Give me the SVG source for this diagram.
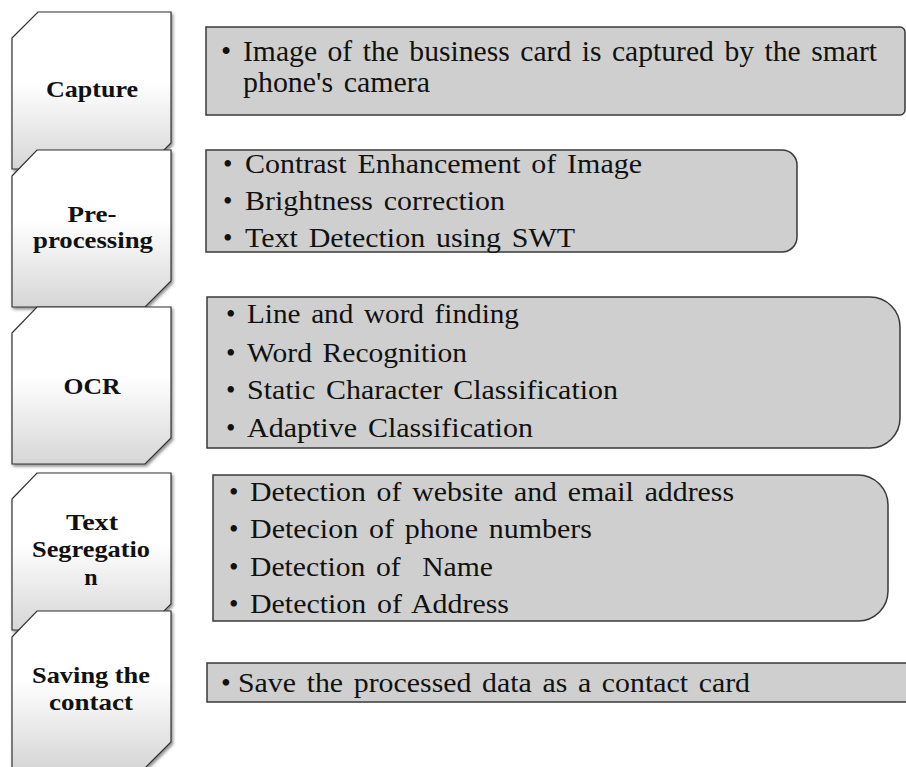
<svg xmlns="http://www.w3.org/2000/svg" width="906" height="767" viewBox="0 0 906 767">
  <defs>
    <linearGradient id="stepFill" x1="0" y1="0" x2="0" y2="1">
      <stop offset="0" stop-color="#ffffff"/>
      <stop offset="0.45" stop-color="#ffffff"/>
      <stop offset="1" stop-color="#d6d6d6"/>
    </linearGradient>
    <filter id="stepShadow" x="-10%" y="-10%" width="125%" height="125%">
      <feDropShadow dx="1.5" dy="2" stdDeviation="1.6" flood-color="#000" flood-opacity="0.45"/>
    </filter>
  </defs>
  <style>
    .step { fill: url(#stepFill); stroke: #333; stroke-width: 1.2; filter: url(#stepShadow); }
    .label { font-weight: bold; font-size: 24px; fill: #111; text-anchor: middle; }
    .box { fill: #cfcfcf; stroke: #3a3a3a; stroke-width: 1.5; }
    .item { font-size: 27px; fill: #111; word-spacing: 3px; }
    .big { font-size: 29px; }
    .mid { font-size: 28px; }
  </style>
  <rect width="906" height="767" fill="#ffffff"/>

  <!-- detail boxes (right column) -->
  <g id="details" font-family="'Liberation Serif', 'Times New Roman', serif">
    <g id="detail-capture">
      <path class="box" d="M206,27 H900 A5,5 0 0 1 905,32 V110 A5,5 0 0 1 900,115 H206 Z"/>
      <text class="item big" x="221" y="61">•</text>
      <text class="item big" x="243" y="61" textLength="634" lengthAdjust="spacingAndGlyphs">Image of the business card is captured by the smart</text>
      <text class="item big" x="243" y="92" textLength="187" lengthAdjust="spacingAndGlyphs">phone's camera</text>
    </g>
    <g id="detail-preprocessing">
      <path class="box" d="M206,150 H782 A15,15 0 0 1 797,165 V237 A15,15 0 0 1 782,252 H206 Z"/>
      <text class="item" x="223" y="173">•</text>
      <text class="item" x="245" y="173" textLength="397" lengthAdjust="spacingAndGlyphs">Contrast Enhancement of Image</text>
      <text class="item" x="223" y="210">•</text>
      <text class="item" x="245" y="210" textLength="260" lengthAdjust="spacingAndGlyphs">Brightness correction</text>
      <text class="item" x="223" y="247">•</text>
      <text class="item" x="245" y="247" textLength="330" lengthAdjust="spacingAndGlyphs">Text Detection using SWT</text>
    </g>
    <g id="detail-ocr">
      <path class="box" d="M207,297 H870 A30,30 0 0 1 900,327 V418 A30,30 0 0 1 870,448 H207 Z"/>
      <text class="item" x="226" y="323">•</text>
      <text class="item" x="247" y="323" textLength="272" lengthAdjust="spacingAndGlyphs">Line and word finding</text>
      <text class="item" x="226" y="362">•</text>
      <text class="item" x="247" y="362" textLength="220" lengthAdjust="spacingAndGlyphs">Word Recognition</text>
      <text class="item" x="226" y="399">•</text>
      <text class="item" x="247" y="399" textLength="371" lengthAdjust="spacingAndGlyphs">Static Character Classification</text>
      <text class="item" x="226" y="437">•</text>
      <text class="item" x="247" y="437" textLength="286" lengthAdjust="spacingAndGlyphs">Adaptive Classification</text>
    </g>
    <g id="detail-segregation">
      <path class="box" d="M213,475 H858 A30,30 0 0 1 888,505 V591 A30,30 0 0 1 858,621 H213 Z"/>
      <text class="item" x="229" y="501">•</text>
      <text class="item" x="250" y="501" textLength="484" lengthAdjust="spacingAndGlyphs">Detection of website and email address</text>
      <text class="item" x="229" y="538">•</text>
      <text class="item" x="250" y="538" textLength="342" lengthAdjust="spacingAndGlyphs">Detecion of phone numbers</text>
      <text class="item" x="229" y="576">•</text>
      <text class="item" x="250" y="576" textLength="243" lengthAdjust="spacingAndGlyphs" xml:space="preserve">Detection of  Name</text>
      <text class="item" x="229" y="613">•</text>
      <text class="item" x="250" y="613" textLength="259" lengthAdjust="spacingAndGlyphs">Detection of Address</text>
    </g>
    <g id="detail-saving">
      <path class="box" d="M207,663 H912 V702 H207 Z"/>
      <text class="item mid" x="221" y="692">•</text>
      <text class="item mid" x="238" y="692" textLength="512" lengthAdjust="spacingAndGlyphs">Save the processed data as a contact card</text>
    </g>
  </g>

  <!-- process steps (left column), later steps overlap earlier ones -->
  <g id="steps" font-family="'Liberation Serif', 'Times New Roman', serif">
    <g id="step-capture">
      <path class="step" d="M12,38 L38,12 H171 V143 L145,169 H12 Z"/>
      <text class="label" x="92" y="97" textLength="92" lengthAdjust="spacingAndGlyphs">Capture</text>
    </g>
    <g id="step-preprocessing">
      <path class="step" d="M12,176 L37,150 H171 V281 L145,307 H12 Z"/>
      <text class="label" x="92" y="222" textLength="49" lengthAdjust="spacingAndGlyphs">Pre-</text>
      <text class="label" x="93" y="248" textLength="120" lengthAdjust="spacingAndGlyphs">processing</text>
    </g>
    <g id="step-ocr">
      <path class="step" d="M12,333 L37,307 H171 V438 L145,464 H12 Z"/>
      <text class="label" x="92" y="394" textLength="57" lengthAdjust="spacingAndGlyphs">OCR</text>
    </g>
    <g id="step-segregation">
      <path class="step" d="M12,499 L37,473 H171 V604 L145,630 H12 Z"/>
      <text class="label" x="92" y="530" textLength="52" lengthAdjust="spacingAndGlyphs">Text</text>
      <text class="label" x="91" y="557" textLength="118" lengthAdjust="spacingAndGlyphs">Segregatio</text>
      <text class="label" x="91" y="585">n</text>
    </g>
    <g id="step-saving">
      <path class="step" d="M12,637 L37,611 H171 V742 L145,768 H12 Z"/>
      <text class="label" x="91" y="683" textLength="118" lengthAdjust="spacingAndGlyphs">Saving the</text>
      <text class="label" x="91" y="710" textLength="84" lengthAdjust="spacingAndGlyphs">contact</text>
    </g>
  </g>
</svg>
